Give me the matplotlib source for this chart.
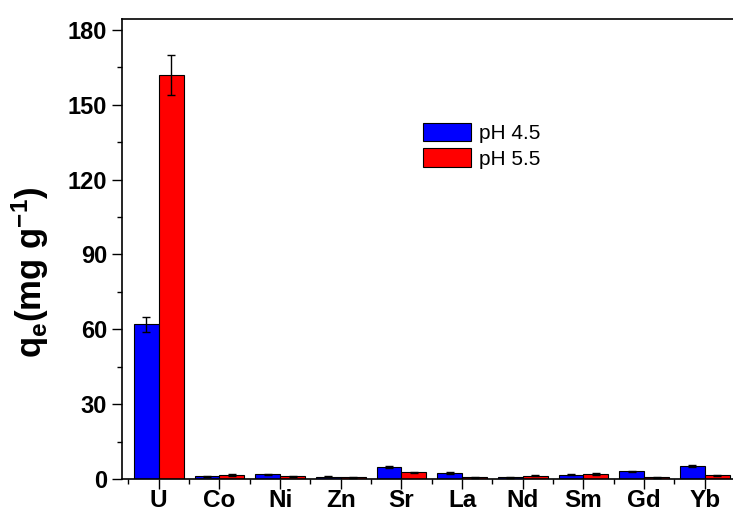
import matplotlib
matplotlib.use("Agg")
import matplotlib.pyplot as plt
from matplotlib.ticker import MultipleLocator
import numpy as np

# metal ions and adsorption capacity (mg/g)
ions = ['U', 'Co', 'Ni', 'Zn', 'Sr', 'La', 'Nd', 'Sm', 'Gd', 'Yb']
ph45 = [62.0, 1.1, 2.0, 0.9, 4.8, 2.4, 0.7, 1.8, 3.1, 5.3]
ph45_err = [3.0, 0.2, 0.2, 0.2, 0.4, 0.3, 0.2, 0.3, 0.3, 0.4]
ph55 = [162.0, 1.6, 1.2, 0.8, 2.7, 0.8, 1.4, 2.1, 0.7, 1.5]
ph55_err = [8.0, 0.3, 0.2, 0.2, 0.3, 0.2, 0.2, 0.3, 0.2, 0.3]

plt.rcParams['font.family'] = ['Liberation Sans', 'DejaVu Sans']
plt.rcParams['mathtext.fontset'] = 'custom'
plt.rcParams['mathtext.rm'] = 'Liberation Sans:bold'
plt.rcParams['mathtext.bf'] = 'Liberation Sans:bold'
plt.rcParams['mathtext.it'] = 'Liberation Sans:bold'

fig = plt.figure(figsize=(7.33, 5.11), dpi=100)
ax = fig.add_axes([0.1669, 0.0626, 0.8443, 0.9002])

x = np.arange(len(ions))
w = 0.41
ekw = dict(elinewidth=1, ecolor='black', capthick=1)
ax.bar(x - w / 2, ph45, width=w, color='#0000ff', edgecolor='black', linewidth=0.8,
       yerr=ph45_err, capsize=3.2, error_kw=ekw, label='pH 4.5')
ax.bar(x + w / 2, ph55, width=w, color='#ff0000', edgecolor='black', linewidth=0.8,
       yerr=ph55_err, capsize=3.2, error_kw=ekw, label='pH 5.5')

ax.set_xlim(-0.6, 9.6)
ax.set_ylim(0, 184.4)
ax.set_xticks(x)
ax.set_xticklabels(ions, fontsize=17.5, fontweight='bold')
ax.set_xticks(np.append(x[0] - 0.5, x + 0.5), minor=True)
ax.yaxis.set_major_locator(MultipleLocator(30))
ax.yaxis.set_minor_locator(MultipleLocator(15))
for lab in ax.get_yticklabels():
    lab.set_fontsize(17)
    lab.set_fontweight('bold')

ax.tick_params(axis='y', which='major', direction='out', length=7.5, width=1, pad=3.5)
ax.tick_params(axis='x', which='major', direction='out', length=7, width=1, pad=0.3)
ax.tick_params(axis='both', which='minor', direction='out', length=3.6, width=1)
for sp in ax.spines.values():
    sp.set_linewidth(1.2)

ax.set_ylabel(r'$\mathbf{q_e}$' + '(mg g$^{\\mathbf{-1}}$)', fontsize=25, fontweight='bold')
ax.yaxis.set_label_coords(-0.115, 0.45)

ax.legend(loc='upper left', bbox_to_anchor=(0.486, 0.775), frameon=False, fontsize=15,
          handlelength=2.3, handleheight=1.0, handletextpad=0.38, labelspacing=0.25,
          borderaxespad=0, borderpad=0)

fig.savefig('out.png', dpi=100)
